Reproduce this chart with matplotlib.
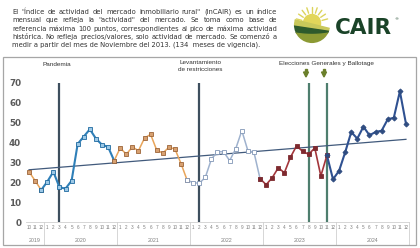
import numpy as np
import matplotlib.pyplot as plt
from matplotlib.patches import Rectangle, Circle, Polygon

W, H = 420, 248

# Monthly index values, Oct 2019 .. Dec 2024
y2019 = [25.3, 20.8, 16.1]
y2020 = [20.3, 25.3, 17.5, 16.8, 20.8, 39.3, 43.0, 46.7, 42.0, 38.9, 37.8, 30.9]
y2021 = [37.3, 34.1, 37.8, 35.9, 42.3, 44.1, 36.2, 34.7, 37.6, 36.8, 29.4, 21.1]
y2022 = [19.8, 19.5, 22.5, 31.7, 35.4, 35.4, 30.9, 36.9, 46.0, 35.9, 35.1, 21.8]
y2023 = [18.8, 22.3, 27.3, 24.8, 32.6, 38.3, 35.6, 34.1, 37.3, 23.2, 33.6, 21.5]
y2024 = [25.8, 35.1, 45.3, 42.0, 48.0, 43.7, 45.3, 46.0, 51.7, 52.5, 65.8, 49.5]

years = ["2019", "2020", "2021", "2022", "2023", "2024"]
months = [10, 11, 12] + list(range(1, 13)) * 5

events = [("Pandemia", 5), ("Levantamiento\nde restricciones", 28)]
elections = [46, 49]

header = [
    'El "Índice de actividad del mercado inmobiliario rural" (InCAIR) es un índice',
    'mensual que refleja la "actividad" del mercado. Se toma como base de',
    'referencia máxima 100 puntos, correspondientes al pico de máxima actividad',
    'histórica. No refleja precios/valores, solo actividad de mercado. Se comenzó a',
    'medir a partir del mes de Noviembre del 2013. (134  meses de vigencia).',
]

values = np.array(y2019 + y2020 + y2021 + y2022 + y2023 + y2024)
idx = np.arange(len(values))


def fx(x):
    return x / W


def fy(y):
    return 1 - y / H


fig = plt.figure(figsize=(W / 100, H / 100), dpi=100)
fig.patch.set_facecolor('white')

# chart frame
fig.patches.append(Rectangle((fx(3), fy(245)), fx(413), 188 / H, transform=fig.transFigure,
                             fill=False, edgecolor='#A6A6A6', linewidth=0.9))

ax = fig.add_axes([fx(26), fy(222), fx(383), (222 - 83) / H])
ax.set_xlim(-0.5, len(values) - 0.5)
ax.set_ylim(0, 70)

# series segments: (start, end, line color, marker, face, edge, lw)
segments = [
    (0, 2, '#E9A55A', 's', '#D7A070', '#9C6438', 1.1),
    (2, 14, '#2E7FB8', 's', '#9CC8E6', '#1F6AA0', 1.5),
    (14, 26, '#E9A55A', 's', '#D7A070', '#9C6438', 1.1),
    (26, 38, '#9FB2CE', 's', 'white', '#8196B6', 1.1),
    (38, 49, '#A3363B', 's', '#7E2A2F', '#7E2A2F', 1.2),
    (49, 62, '#2F5191', 'D', '#2F4C80', '#2F4C80', 1.5),
]
for a, b, c, m, mf, me, lw in segments:
    ax.plot(idx[a:b + 1], values[a:b + 1], color=c, lw=lw, zorder=3)
    ax.plot(idx[a:b + 1], values[a:b + 1], ls='none', marker=m, ms=2.6,
            mfc=mf, mec=me, mew=0.6, zorder=4)

# linear trend
k, b0 = np.polyfit(idx, values, 1)
ax.plot(idx[[0, -1]], k * idx[[0, -1]] + b0, color='#415A7C', lw=0.9, zorder=2)

for name, i in events:
    ax.vlines(i, 0, 70, color='#3E4F5E', lw=1.6, zorder=1)
for i in elections:
    ax.vlines(i, 0, 70, color='#4E7E6E', lw=1.6, zorder=1)

for s in ['top', 'right', 'left']:
    ax.spines[s].set_visible(False)
ax.spines['bottom'].set_color('#D0D0D0')
ax.spines['bottom'].set_linewidth(0.6)

ax.set_yticks(range(0, 71, 10))
ax.tick_params(axis='y', length=0, pad=3.5, labelsize=6.3, labelcolor='#5A5A5A')
for t in ax.get_yticklabels():
    t.set_fontweight('bold')

ax.set_xticks(idx)
ax.set_xticklabels([str(m) for m in months], fontsize=3.3, color='#7F7F7F',
                   family='Liberation Sans')
ax.tick_params(axis='x', length=0, pad=2)

# year row and separators
bounds = [-0.5, 2.5, 14.5, 26.5, 38.5, 50.5, 62.5]
for j, yr in enumerate(years):
    ax.text((bounds[j] + bounds[j + 1]) / 2, -0.13, yr, transform=ax.get_xaxis_transform(),
            ha='center', va='center', fontsize=3.8, color='#7F7F7F', family='Liberation Sans')
for xb in bounds[1:]:
    ax.plot([xb, xb], [0, -0.165], transform=ax.get_xaxis_transform(), color='#D0D0D0',
            lw=0.6, clip_on=False)

# event labels
fig.text(fx(57), fy(65), "Pandemia", fontsize=4.6, color='#333333', ha='center', va='center',
         family='Liberation Sans')
fig.text(fx(200), fy(66), events[1][0], fontsize=4.6, color='#333333', ha='center', va='center',
         family='Liberation Sans', linespacing=1.3)
fig.text(fx(326), fy(63), "Elecciones Generales y Ballotage", fontsize=4.6, color='#333333',
         ha='center', va='center', family='Liberation Sans')
for xa in [306, 324]:
    fig.patches.append(Polygon([(fx(xa - 2.5), fy(72)), (fx(xa + 2.5), fy(72)), (fx(xa), fy(77))],
                               closed=True, transform=fig.transFigure, color='#6B7F2A'))
    fig.patches.append(Rectangle((fx(xa - 1), fy(72)), fx(2), 3 / H, transform=fig.transFigure,
                                 color='#6B7F2A'))

# header paragraph, justified
r = fig.canvas.get_renderer()
x0, x1 = 12, 277
fs = 4.9
for n, line in enumerate(header):
    yy = fy(12 + n * 8.3)
    if n == len(header) - 1:
        fig.text(fx(x0), yy, line, fontsize=fs, color='#333333', va='center')
        continue
    words = line.split()
    ts = [fig.text(0, yy, w, fontsize=fs, color='#333333', va='center') for w in words]
    widths = [t.get_window_extent(r).width for t in ts]
    gap = (x1 - x0 - sum(widths)) / (len(words) - 1)
    x = x0
    for t, w in zip(ts, widths):
        t.set_x(fx(x))
        x += w + gap

# logo
lax = fig.add_axes([fx(292), fy(44), fx(40), 38 / H])
lax.set_xlim(-1, 1)
lax.set_ylim(-1, 1)
lax.set_aspect('equal')
lax.axis('off')
clip = Circle((0, 0), 0.95, transform=lax.transData)
for ang in np.linspace(15, 165, 9):
    a = np.radians(ang)
    lax.plot([0.55 * np.cos(a), 0.85 * np.cos(a)], [0.1 + 0.55 * np.sin(a), 0.1 + 0.85 * np.sin(a)],
             color='#DCD45C', lw=1.0, solid_capstyle='round')
lax.add_patch(Circle((0, 0.1), 0.45, color='#E2D65A'))
xs = np.linspace(-1, 1, 40)
fields = [
    (0.05 - 0.25 * xs, -0.2 - 0.15 * xs, '#C9C85A'),
    (-0.2 - 0.15 * xs, -0.5 + 0.1 * xs ** 2, '#2E5A2C'),
    (-0.5 + 0.1 * xs ** 2, -1.0 + 0 * xs, '#8C9A34'),
]
for top, bot, c in fields:
    p = Polygon(np.column_stack([np.r_[xs, xs[::-1]], np.r_[top, bot[::-1]]]), color=c)
    lax.add_patch(p)
    p.set_clip_path(clip)
fig.text(fx(335), fy(27.5), "CAIR", fontsize=15.5, fontweight='bold', color='#1A4328',
         va='center', ha='left')
fig.text(fx(394), fy(19), "®", fontsize=3, color='#1A4328', va='center')

fig.savefig('out.png', dpi=100, facecolor='white')
